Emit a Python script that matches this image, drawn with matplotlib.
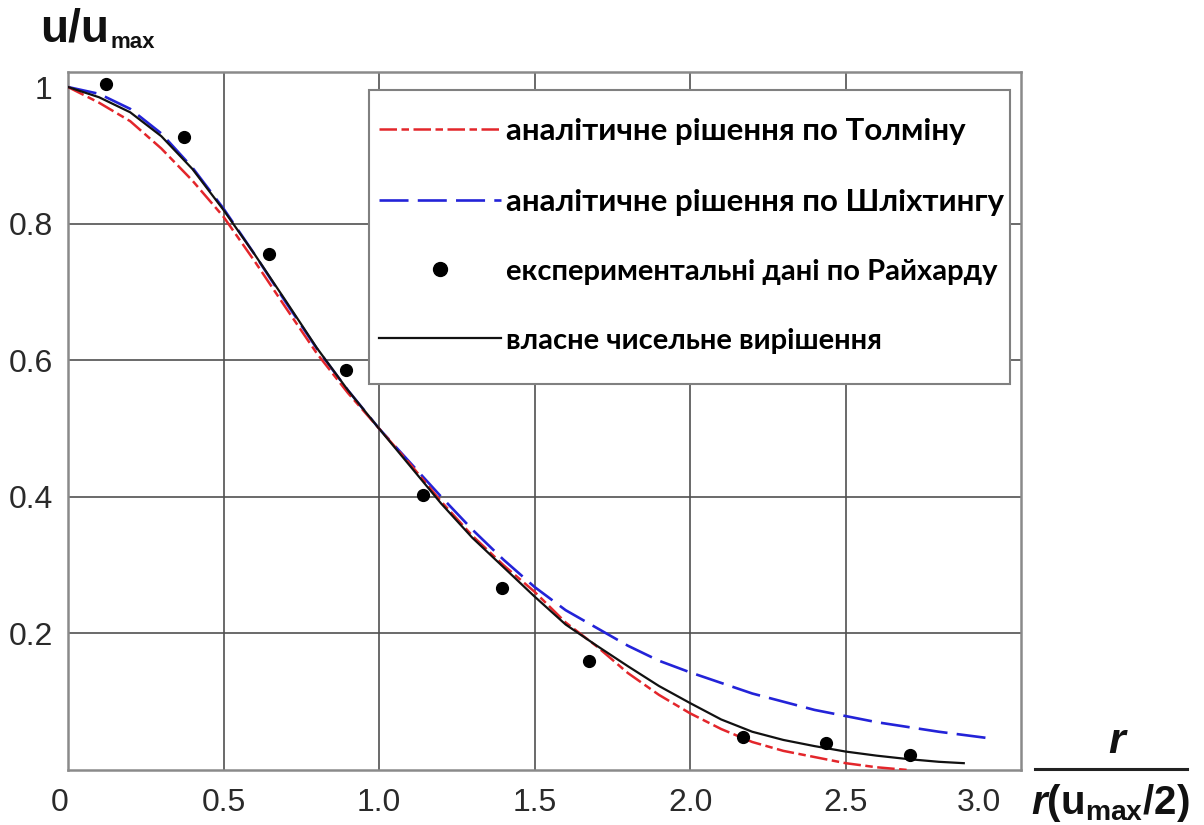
import matplotlib
matplotlib.use('Agg')
import matplotlib.pyplot as plt
from matplotlib.lines import Line2D
from matplotlib.patches import Rectangle

plt.rcParams['font.family'] = ['Liberation Sans', 'DejaVu Sans']
plt.rcParams['mathtext.fontset'] = 'custom'
plt.rcParams['mathtext.bf'] = 'Liberation Sans:bold'
plt.rcParams['mathtext.bfit'] = 'Liberation Sans:italic:bold'
plt.rcParams['mathtext.rm'] = 'Liberation Sans'
plt.rcParams['mathtext.it'] = 'Liberation Sans:italic'

# ---------------- data ----------------
tolmien_x = [0, 0.1, 0.2, 0.3, 0.4, 0.5, 0.6, 0.7, 0.8, 0.9, 1.0, 1.1, 1.2, 1.3,
             1.4, 1.5, 1.6, 1.7, 1.8, 1.9, 2.0, 2.1, 2.2, 2.3, 2.4, 2.5, 2.6, 2.7]
tolmien_y = [1.0, 0.977, 0.95, 0.91, 0.863, 0.81, 0.745, 0.677, 0.61, 0.552, 0.5,
             0.448, 0.393, 0.343, 0.3, 0.261, 0.216, 0.181, 0.142, 0.11, 0.083,
             0.06, 0.041, 0.028, 0.019, 0.01, 0.004, 0.0]

schlichting_x = [0, 0.1, 0.2, 0.3, 0.4, 0.5, 0.6, 0.7, 0.8, 0.9, 1.0, 1.1, 1.2,
                 1.3, 1.4, 1.5, 1.6, 1.7, 1.8, 1.9, 2.0, 2.2, 2.4, 2.6, 2.8, 2.97]
schlichting_y = [1.0, 0.99, 0.968, 0.932, 0.882, 0.822, 0.755, 0.685, 0.617,
                 0.556, 0.5, 0.45, 0.4, 0.352, 0.308, 0.268, 0.234, 0.208, 0.182,
                 0.16, 0.143, 0.112, 0.088, 0.07, 0.056, 0.046]

numeric_x = [0, 0.1, 0.2, 0.3, 0.4, 0.5, 0.6, 0.7, 0.8, 0.9, 1.0, 1.1, 1.2, 1.3,
             1.4, 1.5, 1.6, 1.7, 1.8, 1.9, 2.0, 2.1, 2.2, 2.3, 2.4, 2.5, 2.6,
             2.7, 2.8, 2.88]
numeric_y = [1.0, 0.985, 0.963, 0.928, 0.88, 0.82, 0.755, 0.687, 0.618, 0.556,
             0.5, 0.445, 0.39, 0.34, 0.297, 0.254, 0.213, 0.182, 0.152, 0.123,
             0.098, 0.074, 0.056, 0.044, 0.035, 0.027, 0.021, 0.016, 0.012, 0.01]

exp_x = [0.122, 0.373, 0.647, 0.894, 1.14, 1.394, 1.676, 2.17, 2.437, 2.707]
exp_y = [1.005, 0.927, 0.755, 0.586, 0.403, 0.266, 0.16, 0.049, 0.040, 0.022]

series_labels = ['аналітичне рішення по Толміну',
                 'аналітичне рішення по Шліхтингу',
                 'експериментальні дані по Райхарду',
                 'власне чисельне вирішення']

xticks = [0, 0.5, 1.0, 1.5, 2.0, 2.5, 3.0]
xticklabels = ['0', '0.5', '1.0', '1.5', '2.0', '2.5', '3.0']
yticks = [0.2, 0.4, 0.6, 0.8, 1.0]
yticklabels = ['0.2', '0.4', '0.6', '0.8', '1']

# ---------------- figure ----------------
W, H = 1204, 825
fig = plt.figure(figsize=(W / 100, H / 100), dpi=100)
fig.patch.set_facecolor('white')


def fx(x):
    return x / W


def fy(y):
    return 1 - y / H


L, R, T, B = 68, 1021, 72, 770
ax = fig.add_axes([fx(L), fy(B), (R - L) / W, (B - T) / H])
ax.set_xlim(0, 3.064)
ax.set_ylim(0, 1.022)

RED = '#e3262b'
BLUE = '#2323d8'
RED_DASH = (7, 1.8, 3, 1.8)
BLUE_DASH = (11, 3.5)

for xv in xticks[1:-1]:
    ax.axvline(xv, color='#505050', lw=1.2, zorder=1)
for yv in yticks[:-1]:
    ax.axhline(yv, color='#505050', lw=1.2, zorder=1)

ax.plot(schlichting_x, schlichting_y, color=BLUE, lw=1.9, dashes=BLUE_DASH, zorder=3)
ax.plot(tolmien_x, tolmien_y, color=RED, lw=1.8, dashes=RED_DASH, zorder=4)
ax.plot(numeric_x, numeric_y, color='#111111', lw=1.6, zorder=5)
ax.plot(exp_x, exp_y, 'o', color='black', ms=8.5, zorder=6, clip_on=False)

ax.set_xticks(xticks)
ax.set_xticklabels(xticklabels)
ax.set_yticks(yticks)
ax.set_yticklabels(yticklabels)
ax.tick_params(axis='both', length=0, labelsize=23, colors='#2a2a2a')
ax.tick_params(axis='x', pad=13)
ax.tick_params(axis='y', pad=11)
for t in ax.get_xticklabels() + ax.get_yticklabels():
    t.set_fontfamily('Liberation Sans')
xl = ax.get_xticklabels()
xl[0].set_ha('right')
xl[-1].set_ha('right')

for s in ax.spines.values():
    s.set_color('#8a8a8a')
    s.set_linewidth(1.8)

# legend frame and legend
fig.add_artist(Rectangle((fx(369), fy(384)), 641 / W, 294 / H,
                         transform=fig.transFigure, facecolor='white',
                         edgecolor='#808080', lw=1.5, zorder=2))
handles = [
    Line2D([], [], color=RED, lw=1.8, dashes=RED_DASH),
    Line2D([], [], color=BLUE, lw=1.9, dashes=BLUE_DASH),
    Line2D([], [], color='black', marker='o', ms=10, ls='none'),
    Line2D([], [], color='#111111', lw=1.6),
]
leg = fig.legend(handles, series_labels, loc='upper left',
                 bbox_to_anchor=(fx(379), fy(117)), bbox_transform=fig.transFigure,
                 frameon=False, borderpad=0, borderaxespad=0,
                 handlelength=3.9, handletextpad=0.15, labelspacing=1.36,
                 numpoints=1,
                 prop={'family': ['Lato', 'DejaVu Sans'], 'weight': 'bold', 'size': 22.5})
for t in leg.get_texts()[2:]:
    t.set_fontsize(21)
leg.set_zorder(5)

# y axis label
fig.text(fx(40), fy(42), 'u/u', fontsize=33, fontweight='bold', color='#111111',
         va='baseline', ha='left', fontfamily='Liberation Sans')
fig.text(fx(110), fy(48), 'max', fontsize=16, fontweight='bold', color='#111111',
         va='baseline', ha='left', fontfamily='Liberation Sans')

# x axis label (fraction)
fig.text(fx(1118), fy(753), r'$\mathbfit{r}$', fontsize=31, ha='center',
         va='baseline', color='#111111')
fig.add_artist(Line2D([fx(1035), fx(1187)], [fy(769), fy(769)],
                      transform=fig.transFigure, color='#222222', lw=2.2))
fig.text(fx(1110), fy(814), r'$\mathbfit{r}\mathbf{(u}_{\mathbf{max}}\mathbf{/2)}$',
         fontsize=29, ha='center', va='baseline', color='#111111')

fig.savefig('out.png', dpi=100)
